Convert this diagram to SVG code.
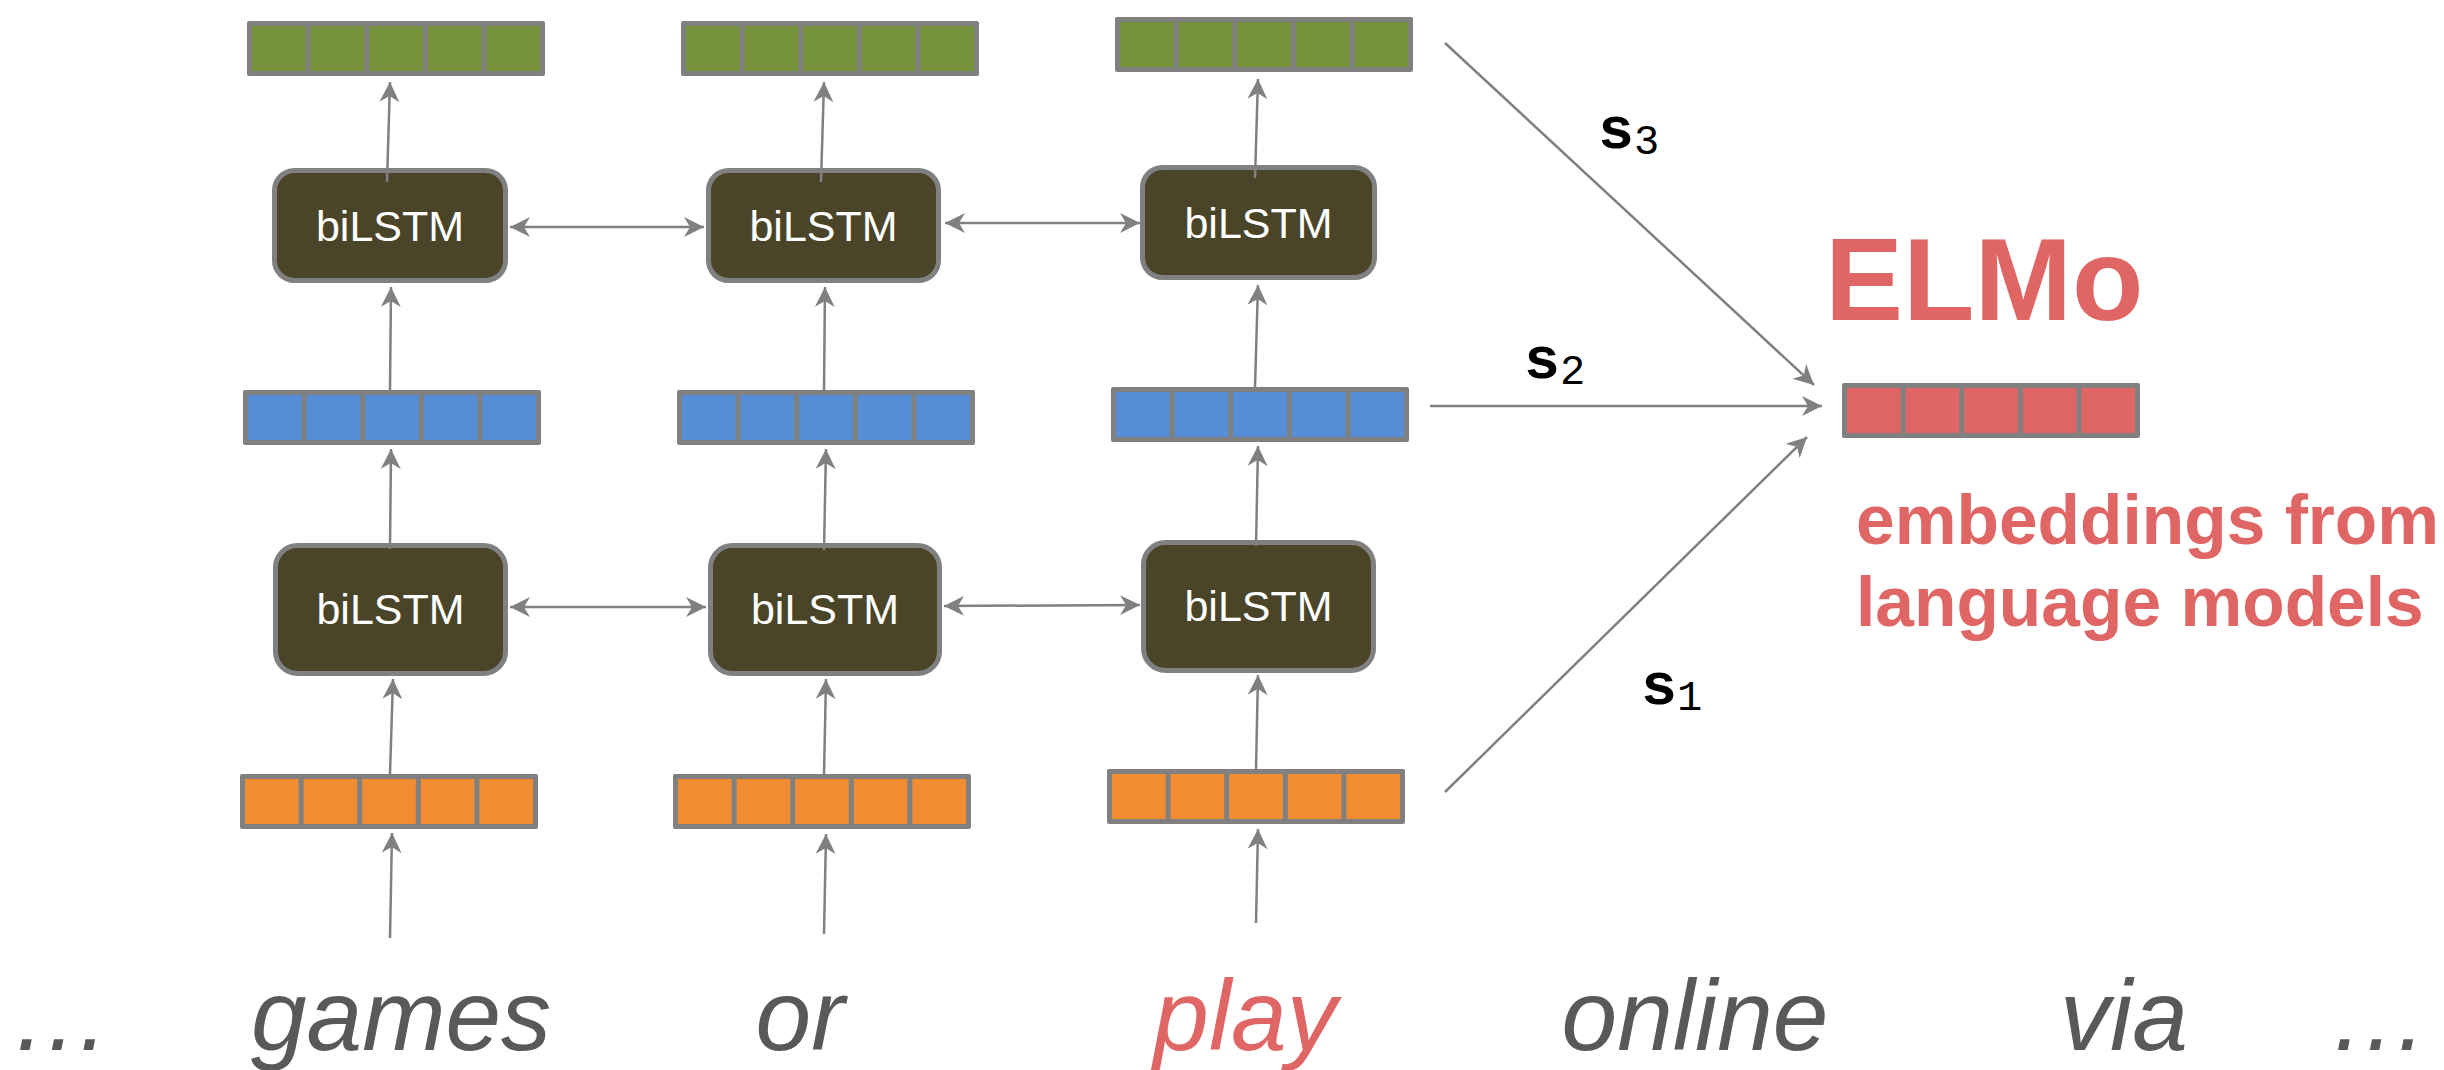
<svg xmlns="http://www.w3.org/2000/svg" xmlns:xlink="http://www.w3.org/1999/xlink" width="2444" height="1070" viewBox="0 0 2444 1070">
  <style>
    .box { fill: #4a4529; stroke: #808080; stroke-width: 5; }
    .box-label { font-family: "Liberation Sans", Arial, sans-serif; font-size: 43px; fill: #ffffff; text-anchor: middle; }
    .frame { fill: #808080; }
    .edge { fill: none; stroke: #808080; stroke-width: 2.5; }
    .word { font-family: "Liberation Sans", Arial, sans-serif; font-size: 100px; font-style: italic; fill: #595959; text-anchor: middle; }
    .word.focus { fill: #e06666; }
    .weight { font-family: "Liberation Mono", "Courier New", monospace; font-size: 60px; font-weight: bold; fill: #000000; }
    .weight tspan { font-size: 42px; font-weight: normal; }
    .elmo { font-family: "Liberation Sans", Arial, sans-serif; font-weight: bold; fill: #e06666; }
  </style>
  <defs>
    <!-- five-cell vector; the cell colour comes from the fill of each <use> -->
    <g id="vec">
      <rect class="frame" x="0" y="0" width="298" height="55" rx="2"/>
      <rect x="5" y="5" width="53.6" height="45"/>
      <rect x="63.6" y="5" width="53.6" height="45"/>
      <rect x="122.2" y="5" width="53.6" height="45"/>
      <rect x="180.8" y="5" width="53.6" height="45"/>
      <rect x="239.4" y="5" width="53.6" height="45"/>
    </g>
    <marker id="head" viewBox="0 0 20 20" refX="20" refY="10" markerWidth="20" markerHeight="20" markerUnits="userSpaceOnUse" orient="auto-start-reverse">
      <path d="M0,0 L20,10 L0,20 L6,10 z" fill="#808080"/>
    </marker>
  </defs>

  <!-- column 1: "games" -->
  <g id="out-games"><use href="#vec" x="247" y="21" fill="#77933c"/></g>
  <g id="lstm2-games"><rect class="box" x="274.5" y="170.5" width="231" height="110" rx="20"/><text class="box-label" x="390" y="241">biLSTM</text></g>
  <g id="hid-games"><use href="#vec" x="243" y="390" fill="#558ed5"/></g>
  <g id="lstm1-games"><rect class="box" x="275.5" y="545.5" width="230" height="128" rx="22"/><text class="box-label" x="390.5" y="624">biLSTM</text></g>
  <g id="emb-games"><use href="#vec" x="240" y="774" fill="#f28c33"/></g>

  <!-- column 2: "or" -->
  <g id="out-or"><use href="#vec" x="681" y="21" fill="#77933c"/></g>
  <g id="lstm2-or"><rect class="box" x="708.5" y="170.5" width="230" height="110" rx="20"/><text class="box-label" x="823.5" y="241">biLSTM</text></g>
  <g id="hid-or"><use href="#vec" x="677" y="390" fill="#558ed5"/></g>
  <g id="lstm1-or"><rect class="box" x="710.5" y="545.5" width="229" height="128" rx="22"/><text class="box-label" x="825" y="624">biLSTM</text></g>
  <g id="emb-or"><use href="#vec" x="673" y="774" fill="#f28c33"/></g>

  <!-- column 3: "play" -->
  <g id="out-play"><use href="#vec" x="1115" y="17" fill="#77933c"/></g>
  <g id="lstm2-play"><rect class="box" x="1142.5" y="167.5" width="232" height="110" rx="20"/><text class="box-label" x="1258.5" y="238">biLSTM</text></g>
  <g id="hid-play"><use href="#vec" x="1111" y="387" fill="#558ed5"/></g>
  <g id="lstm1-play"><rect class="box" x="1143.5" y="542.5" width="230" height="128" rx="22"/><text class="box-label" x="1258.5" y="621">biLSTM</text></g>
  <g id="emb-play"><use href="#vec" x="1107" y="769" fill="#f28c33"/></g>

  <!-- combined representation -->
  <g id="elmo">
    <text class="elmo" x="1825" y="320" font-size="117">ELMo</text>
    <use href="#vec" x="1842" y="383" fill="#e06666"/>
    <text class="elmo" x="1856" y="544" font-size="69.5">embeddings from</text>
    <text class="elmo" x="1856" y="626" font-size="69.5">language models</text>
  </g>

  <!-- input sentence -->
  <g id="sentence">
    <text class="word" x="11" y="1050" style="text-anchor:start">…</text>
    <text class="word" x="401" y="1050">games</text>
    <text class="word" x="800" y="1050">or</text>
    <text class="word focus" x="1245" y="1050">play</text>
    <text class="word" x="1695" y="1050">online</text>
    <text class="word" x="2124" y="1050">via</text>
    <text class="word" x="2329" y="1050" style="text-anchor:start">…</text>
  </g>

  <g id="connectors" class="edge" marker-end="url(#head)">
    <!-- column 1 -->
    <line x1="387" y1="182" x2="390" y2="82"/>
    <line x1="390" y1="390" x2="391" y2="287"/>
    <line x1="390" y1="549" x2="391" y2="449"/>
    <line x1="390" y1="774" x2="393" y2="679"/>
    <line x1="390" y1="938" x2="392" y2="833"/>
    <!-- column 2 -->
    <line x1="821" y1="182" x2="824" y2="82"/>
    <line x1="824" y1="390" x2="825" y2="287"/>
    <line x1="824" y1="550" x2="826" y2="449"/>
    <line x1="824" y1="775" x2="826" y2="679"/>
    <line x1="824" y1="934" x2="826" y2="834"/>
    <!-- column 3 -->
    <line x1="1255" y1="178" x2="1258" y2="79"/>
    <line x1="1255" y1="387" x2="1258" y2="285"/>
    <line x1="1256" y1="546" x2="1258" y2="446"/>
    <line x1="1256" y1="769" x2="1258" y2="675"/>
    <line x1="1256" y1="923" x2="1258" y2="829"/>
    <!-- bidirectional links between time steps -->
    <line x1="510" y1="227" x2="704" y2="227" marker-start="url(#head)"/>
    <line x1="945" y1="223" x2="1140" y2="223" marker-start="url(#head)"/>
    <line x1="510" y1="607" x2="706" y2="607" marker-start="url(#head)"/>
    <line x1="944" y1="606" x2="1140" y2="605" marker-start="url(#head)"/>
    <!-- weighted layers into ELMo -->
    <line x1="1445" y1="43" x2="1814" y2="385"/>
    <line x1="1430" y1="406" x2="1822" y2="406"/>
    <line x1="1445" y1="792" x2="1807" y2="437"/>
  </g>

  <g id="weights">
    <text class="weight" x="1598" y="148">s<tspan dy="6">3</tspan></text>
    <text class="weight" x="1524" y="378">s<tspan dy="6">2</tspan></text>
    <text class="weight" x="1641" y="704">s<tspan dy="6">1</tspan></text>
  </g>
</svg>
